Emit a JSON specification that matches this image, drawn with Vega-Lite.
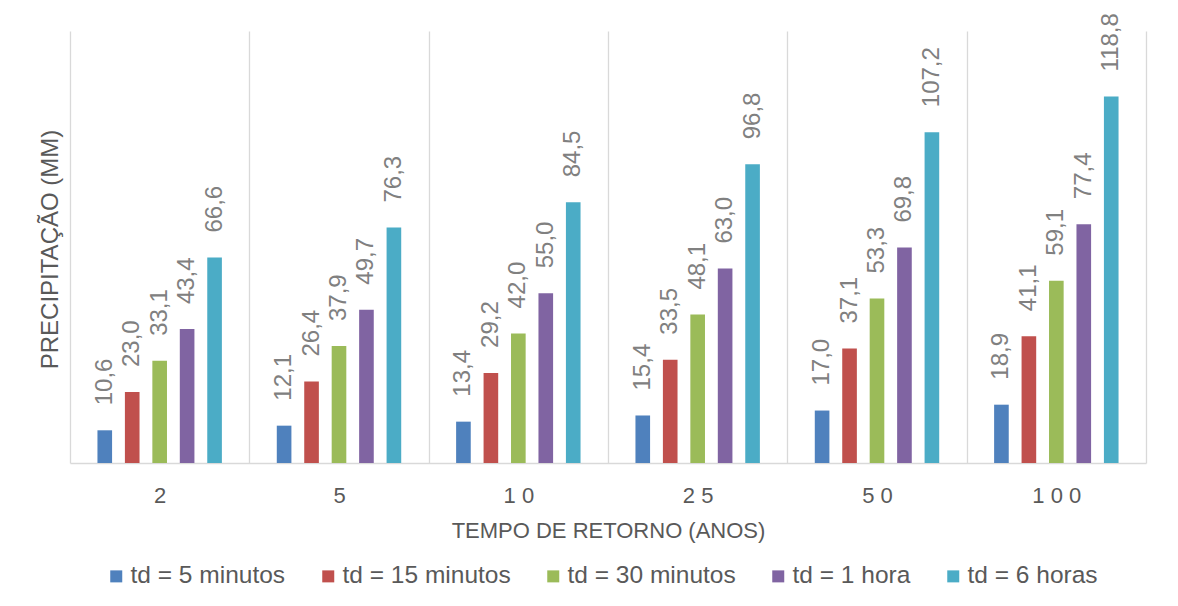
{
  "$schema": "https://vega.github.io/schema/vega-lite/v6.json",
  "autosize": {"type": "none"},
  "width": 1076,
  "height": 432,
  "padding": {"left": 70, "top": 31, "right": 32, "bottom": 143},
  "background": "#ffffff",
  "config": {
    "view": {"stroke": null},
    "font": "Liberation Sans",
    "locale": {"number": {"decimal": ",", "thousands": ".", "grouping": [3], "currency": ["R$", ""]}}
  },
  "data": {
    "values": [
      {"ano": "2", "td": "td = 5 minutos", "valor": 10.6},
      {"ano": "2", "td": "td = 15 minutos", "valor": 23.0},
      {"ano": "2", "td": "td = 30 minutos", "valor": 33.1},
      {"ano": "2", "td": "td = 1 hora", "valor": 43.4},
      {"ano": "2", "td": "td = 6 horas", "valor": 66.6},
      {"ano": "5", "td": "td = 5 minutos", "valor": 12.1},
      {"ano": "5", "td": "td = 15 minutos", "valor": 26.4},
      {"ano": "5", "td": "td = 30 minutos", "valor": 37.9},
      {"ano": "5", "td": "td = 1 hora", "valor": 49.7},
      {"ano": "5", "td": "td = 6 horas", "valor": 76.3},
      {"ano": "10", "td": "td = 5 minutos", "valor": 13.4},
      {"ano": "10", "td": "td = 15 minutos", "valor": 29.2},
      {"ano": "10", "td": "td = 30 minutos", "valor": 42.0},
      {"ano": "10", "td": "td = 1 hora", "valor": 55.0},
      {"ano": "10", "td": "td = 6 horas", "valor": 84.5},
      {"ano": "25", "td": "td = 5 minutos", "valor": 15.4},
      {"ano": "25", "td": "td = 15 minutos", "valor": 33.5},
      {"ano": "25", "td": "td = 30 minutos", "valor": 48.1},
      {"ano": "25", "td": "td = 1 hora", "valor": 63.0},
      {"ano": "25", "td": "td = 6 horas", "valor": 96.8},
      {"ano": "50", "td": "td = 5 minutos", "valor": 17.0},
      {"ano": "50", "td": "td = 15 minutos", "valor": 37.1},
      {"ano": "50", "td": "td = 30 minutos", "valor": 53.3},
      {"ano": "50", "td": "td = 1 hora", "valor": 69.8},
      {"ano": "50", "td": "td = 6 horas", "valor": 107.2},
      {"ano": "100", "td": "td = 5 minutos", "valor": 18.9},
      {"ano": "100", "td": "td = 15 minutos", "valor": 41.1},
      {"ano": "100", "td": "td = 30 minutos", "valor": 59.1},
      {"ano": "100", "td": "td = 1 hora", "valor": 77.4},
      {"ano": "100", "td": "td = 6 horas", "valor": 118.8}
    ]
  },
  "encoding": {
    "x": {
      "field": "ano", "type": "ordinal",
      "sort": ["2", "5", "10", "25", "50", "100"],
      "scale": {"paddingInner": 0, "paddingOuter": 0},
      "axis": {
        "title": "TEMPO DE RETORNO (ANOS)",
        "titleFont": "Liberation Sans", "titleFontSize": 22, "titleFontWeight": "normal", "titleColor": "#595959", "titlePadding": 14,
        "labelFont": "Liberation Sans", "labelFontSize": 22, "labelColor": "#595959", "labelAngle": 0, "labelPadding": 22,
        "labelExpr": "join(split(datum.label, ''), ' ')",
        "ticks": false, "tickBand": "extent",
        "grid": true, "gridColor": "#d9d9d9", "gridWidth": 1.3,
        "domain": true, "domainColor": "#d9d9d9", "domainWidth": 1.5
      }
    },
    "xOffset": {
      "field": "td", "type": "nominal",
      "sort": ["td = 5 minutos", "td = 15 minutos", "td = 30 minutos", "td = 1 hora", "td = 6 horas"],
      "scale": {"paddingInner": 0.467, "paddingOuter": 1.149}
    },
    "y": {
      "field": "valor", "type": "quantitative",
      "scale": {"domain": [0, 140], "nice": false},
      "axis": {
        "title": "PRECIPITAÇÃO (MM)",
        "titleFont": "Liberation Sans", "titleFontSize": 24, "titleFontWeight": "normal", "titleColor": "#595959", "titlePadding": 8, "titleY": 218,
        "labels": false, "ticks": false, "grid": false, "domain": false
      }
    }
  },
  "layer": [
    {
      "mark": {"type": "bar"},
      "encoding": {
        "color": {
          "field": "td", "type": "nominal",
          "sort": ["td = 5 minutos", "td = 15 minutos", "td = 30 minutos", "td = 1 hora", "td = 6 horas"],
          "scale": {
            "domain": ["td = 5 minutos", "td = 15 minutos", "td = 30 minutos", "td = 1 hora", "td = 6 horas"],
            "range": ["#4F81BD", "#C0504D", "#9BBB59", "#8064A2", "#4BACC6"]
          },
          "legend": {
            "title": null, "orient": "none", "direction": "horizontal",
            "legendX": 34, "legendY": 533, "padding": 0,
            "symbolType": "square", "symbolSize": 144, "symbolStrokeWidth": 0,
            "labelFont": "Liberation Sans", "labelFontSize": 24.5, "labelColor": "#595959", "labelOffset": 2,
            "columnPadding": 30, "labelLimit": 400
          }
        }
      }
    },
    {
      "mark": {"type": "text", "angle": 270, "align": "left", "baseline": "middle", "dx": 25, "fontSize": 24, "font": "Liberation Sans", "color": "#808080"},
      "encoding": {
        "text": {"field": "valor", "type": "quantitative", "format": ".1f"}
      }
    }
  ]
}
